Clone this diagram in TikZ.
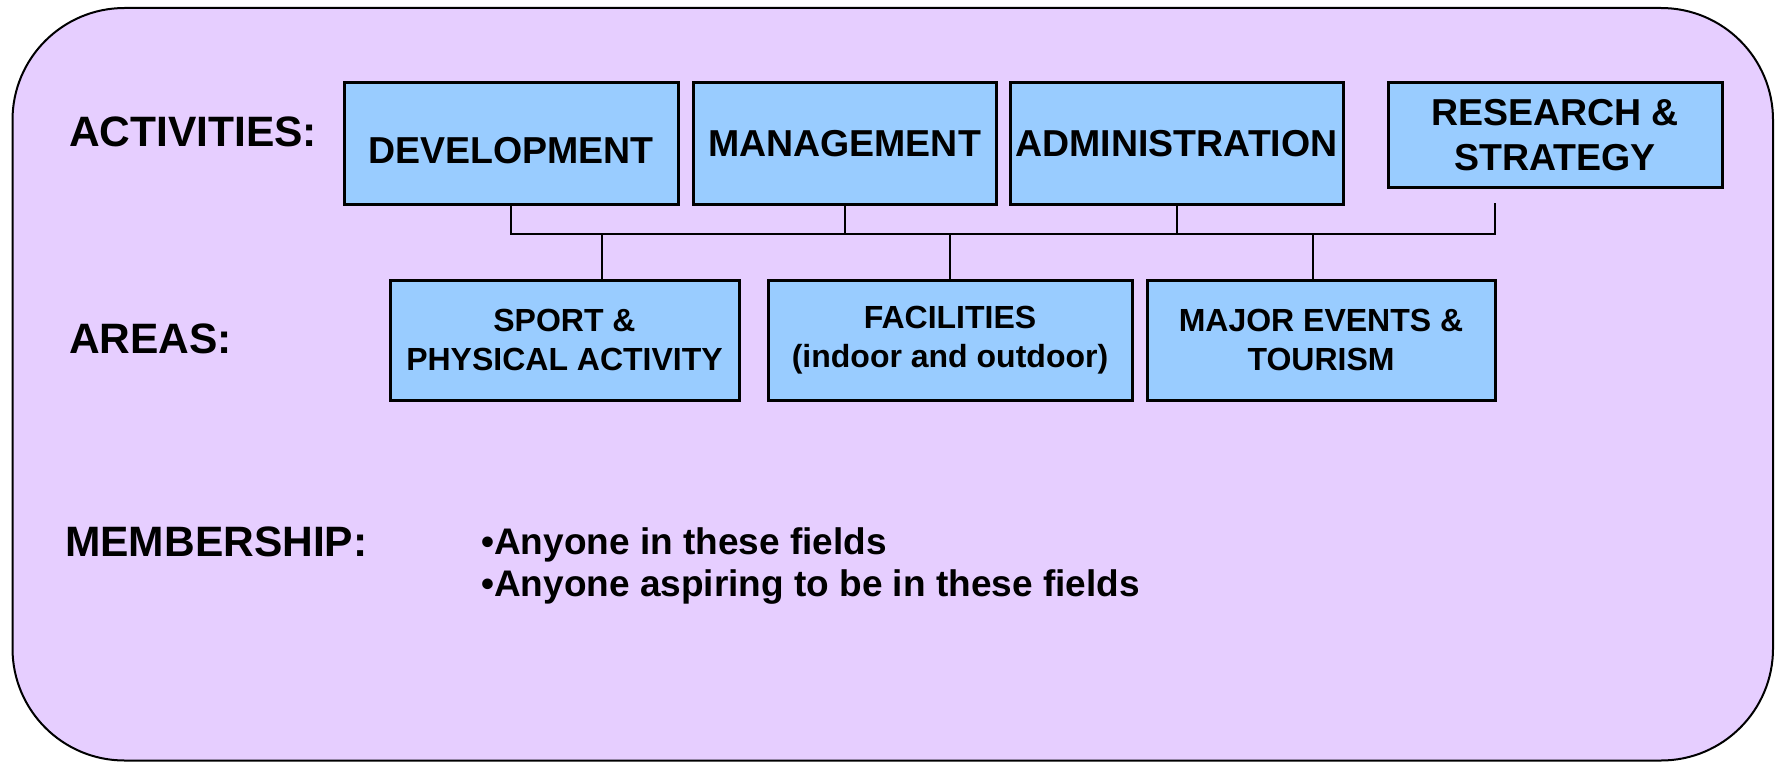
\documentclass[tikz,border=0pt]{standalone}
\usepackage{fontspec}
\setmainfont{Liberation Sans}
\usepackage{xcolor}
\definecolor{lilac}{RGB}{230,206,255}
\definecolor{skyblue}{RGB}{153,204,255}
\begin{document}
\begin{tikzpicture}[x=1pt, y=-1pt,
    head/.style={anchor=west, inner sep=0, font=\fontsize{42.5}{50}\selectfont\bfseries},
    actbox/.style={draw, line width=3pt, fill=skyblue, inner sep=0, minimum height=121, align=center, font=\fontsize{37.5}{45}\selectfont\bfseries},
    areabox/.style={draw, line width=3pt, fill=skyblue, inner sep=0, minimum height=120, align=center, font=\fontsize{32}{39}\selectfont\bfseries},
    link/.style={line width=2pt}]
    \useasboundingbox (0,0) rectangle (1776,762);
    \draw[line width=2pt, fill=lilac, rounded corners=112pt] (12.5,8) rectangle (1773,760.5);
    \node[head] (acts) at (69,131.5) {ACTIVITIES:};
    \node[head] (areas) at (69,339) {AREAS:};
    \node[head] (memb) at (65,542) {MEMBERSHIP:};
    \node[actbox, minimum width=334, text height=39.5pt, text depth=0pt] (dev) at (511,143.5) {DEVELOPMENT};
    \node[actbox, minimum width=303] (mgmt) at (844.5,143.5) {MANAGEMENT};
    \node[actbox, minimum width=333] (admin) at (1176.5,143.5) {ADMINISTRATION};
    \node[actbox, minimum width=334, minimum height=105] (res) at (1555,135.5) {RESEARCH \&\\STRATEGY};
    \node[areabox, minimum width=349] (sport) at (564.5,340) {SPORT \&\\PHYSICAL ACTIVITY};
    \node[areabox, minimum width=364] (fac) at (950,340) {FACILITIES\\(indoor and outdoor)};
    \node[areabox, minimum width=348] (major) at (1321,340) {MAJOR EVENTS \&\\TOURISM};
    \node[anchor=north west, inner sep=0, align=left, font=\fontsize{37}{42}\selectfont\bfseries] (who) at (481,527) {•Anyone in these fields\\•Anyone aspiring to be in these fields};
    \coordinate (busL) at (511,234);
    \coordinate (busR) at (1495,234);
    \coordinate (resfoot) at (1495,203);
    \draw[link] (dev.south) -- (busL) -- (busR) -- (resfoot);
    \draw[link] (mgmt.south) -- (mgmt.south |- busL);
    \draw[link] (admin.south) -- (admin.south |- busL);
    \draw[link] ([xshift=37.5pt]sport.north) -- ([xshift=37.5pt]sport.north |- busL);
    \draw[link] (fac.north) -- (fac.north |- busL);
    \draw[link] ([xshift=-8pt]major.north) -- ([xshift=-8pt]major.north |- busL);
\end{tikzpicture}
\end{document}
